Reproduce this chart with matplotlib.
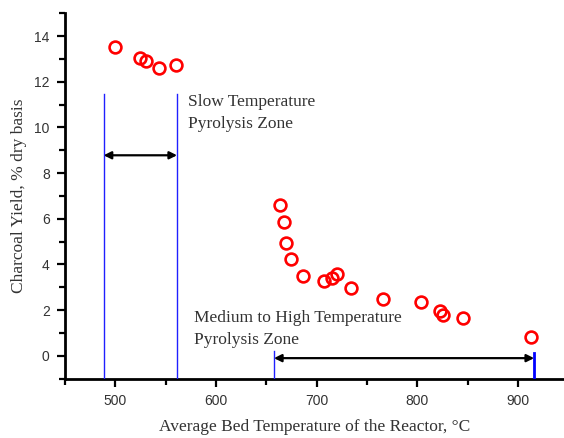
import matplotlib
matplotlib.use("Agg")
import matplotlib.pyplot as plt
from matplotlib.ticker import MultipleLocator

# Data
temperature = [500, 524.8, 530, 543.7, 560.3,
               663.2, 667.9, 669.9, 674.8, 686, 707.3, 715.3, 720.2, 734.4,
               766.2, 803.3, 822.8, 825.1, 845.4, 912.9]
charcoal_yield = [13.53, 13.03, 12.90, 12.59, 12.75,
                  6.61, 5.86, 4.92, 4.24, 3.48, 3.27, 3.43, 3.57, 2.97,
                  2.47, 2.34, 1.96, 1.81, 1.64, 0.83]

slow_zone = (488.4, 561.3)
medium_zone = (657.6, 916.0)
slow_label = "Slow Temperature\nPyrolysis Zone"
medium_label = "Medium to High Temperature\nPyrolysis Zone"

serif = ["Liberation Serif", "DejaVu Serif"]
text_color = "#333333"

fig = plt.figure(figsize=(5.64, 4.38), dpi=100)
ax = fig.add_axes([65 / 564, 59.3 / 438, 499 / 564, 365.5 / 438])

ax.plot(temperature, charcoal_yield, linestyle="none", marker="o",
        markersize=8.5, markerfacecolor="none", markeredgecolor="red",
        markeredgewidth=1.9, zorder=5)

# zone boundary lines
for x in slow_zone:
    ax.plot([x, x], [-1, 11.45], color="#2020ff", lw=1.0, zorder=3)
ax.plot([medium_zone[0]] * 2, [-1, 0.2], color="#2020ff", lw=1.0, zorder=3)
ax.plot([medium_zone[1]] * 2, [-1, 0.12], color="#0000ff", lw=2.0, zorder=3)

# double arrows
arrow = dict(arrowstyle="<|-|>", color="black", lw=1.6,
             mutation_scale=11, shrinkA=0, shrinkB=0)
ax.annotate("", xy=(slow_zone[0], 8.78), xytext=(slow_zone[1], 8.78),
            arrowprops=arrow)
ax.annotate("", xy=(medium_zone[0], -0.1), xytext=(medium_zone[1], -0.1),
            arrowprops=arrow)

ax.text(572.5, 10.62, slow_label, family=serif, fontsize=12.5,
        color=text_color, va="center", ha="left", linespacing=1.5)
ax.text(577.8, 1.17, medium_label, family=serif, fontsize=12.5,
        color=text_color, va="center", ha="left", linespacing=1.55)

ax.set_xlim(450, 945.7)
ax.set_ylim(-1, 15)
ax.xaxis.set_major_locator(MultipleLocator(100))
ax.xaxis.set_minor_locator(MultipleLocator(50))
ax.yaxis.set_major_locator(MultipleLocator(2))
ax.yaxis.set_minor_locator(MultipleLocator(1))

for side in ["top", "right"]:
    ax.spines[side].set_visible(False)
for side in ["left", "bottom"]:
    ax.spines[side].set_linewidth(2.0)

ax.tick_params(which="major", direction="out", length=6, width=1.6,
               labelsize=10, labelcolor=text_color, pad=5)
ax.tick_params(which="minor", direction="out", length=4, width=1.6)
for lab in ax.get_xticklabels() + ax.get_yticklabels():
    lab.set_family(["Liberation Sans", "DejaVu Sans"])

ax.set_ylabel("Charcoal Yield, % dry basis", family=serif, fontsize=12.5,
              color=text_color, labelpad=5)
ax.set_xlabel("Average Bed Temperature of the Reactor, \u00b0C", family=serif,
              fontsize=12.5, color=text_color, labelpad=8)

fig.savefig("out.png", dpi=100)
